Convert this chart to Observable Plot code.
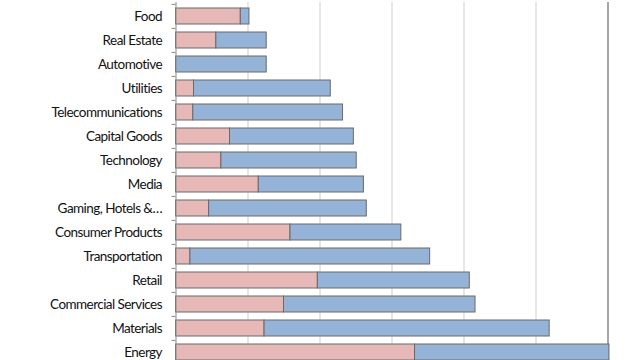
<!DOCTYPE html>
<html>
<head>
<meta charset="utf-8">
<script src="https://cdn.jsdelivr.net/npm/d3@7"></script>
<script src="https://cdn.jsdelivr.net/npm/@observablehq/plot@0.6"></script>
<style>
  html, body { margin: 0; padding: 0; background: #fff; overflow: hidden; }
  #chart { width: 640px; height: 360px; overflow: hidden; }
</style>
</head>
<body>
<div id="chart"></div>
<script>
const categories = ["Food", "Real Estate", "Automotive", "Utilities", "Telecommunications",
  "Capital Goods", "Technology", "Media", "Gaming, Hotels &…", "Consumer Products",
  "Transportation", "Retail", "Commercial Services", "Materials", "Energy"];
const pinkValues = [9.0, 5.6, 0, 2.5, 2.4, 7.5, 6.3, 11.5, 4.6, 15.9, 2.0, 19.7, 15.0, 12.3, 33.2];
const blueValues = [1.2, 7.0, 12.6, 19.0, 20.8, 17.2, 18.8, 14.6, 21.9, 15.4, 33.3, 21.1, 26.6, 39.6, 27.0];
const seriesNames = ["Series 1", "Series 2"];
const seriesColors = ["#e6b9b8", "#95b3d7"];
const gridTicks = [10, 20, 30, 40, 50];
const xMax = 60;

const rows = [];
categories.forEach((c, i) => {
  rows.push({category: c, series: seriesNames[0], value: pinkValues[i]});
  rows.push({category: c, series: seriesNames[1], value: blueValues[i]});
});

const chart = Plot.plot({
  width: 640,
  height: 365,
  marginTop: 2,
  marginBottom: 0,
  marginLeft: 175.5,
  marginRight: 32.5,
  style: {fontFamily: "Lato, sans-serif", fontSize: "13.5px", letterSpacing: "-0.55px", color: "#111", background: "#fff"},
  x: {domain: [0, xMax], axis: null},
  y: {domain: categories, paddingInner: 0.35, paddingOuter: 0.175, label: null},
  color: {domain: seriesNames, range: seriesColors},
  marks: [
    Plot.ruleX(gridTicks, {stroke: "#cfcfcf", strokeWidth: 1}),
    Plot.ruleX([xMax], {stroke: "#8a8a8a", strokeWidth: 1.5}),
    Plot.ruleY(categories, {y: d => d, x1: -0.55, x2: 0, dy: -12.1, stroke: "#8a8a8a"}),
    Plot.barX(rows.filter(d => d.value > 0), Plot.stackX({
      y: "category", x: "value", fill: "series", order: null,
      stroke: "#6a6a6a", strokeWidth: 1
    })),
    Plot.ruleX([0], {stroke: "#8a8a8a", strokeWidth: 1}),
    Plot.axisY({tickSize: 0, tickPadding: 14, fontSize: 13.5, label: null})
  ]
});
document.getElementById("chart").appendChild(chart);
</script>
</body>
</html>
